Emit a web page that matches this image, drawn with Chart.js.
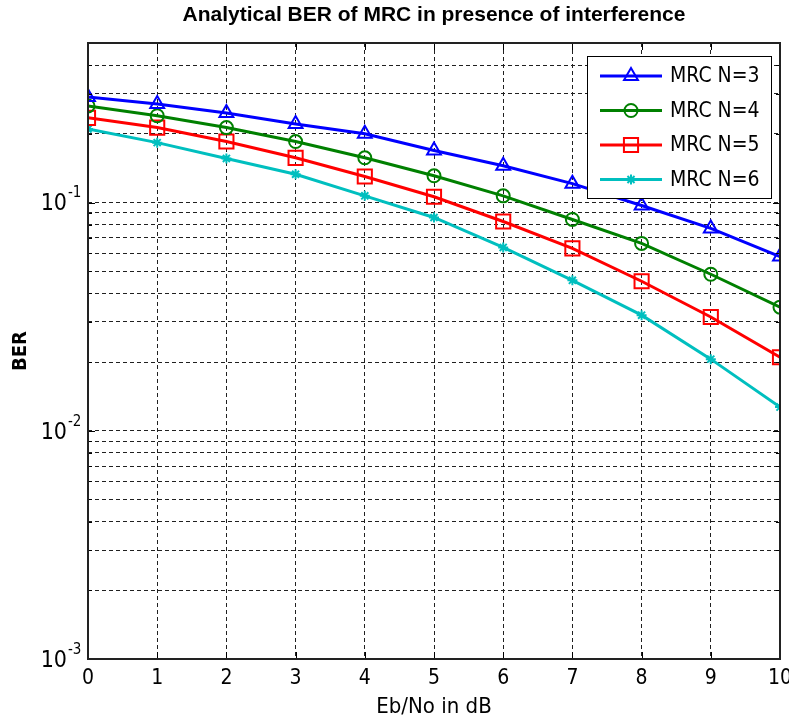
<!DOCTYPE html>
<html>
<head>
<meta charset="utf-8">
<title>Analytical BER of MRC</title>
<script src="https://cdn.jsdelivr.net/npm/chart.js"></script>
<style>
  html, body { margin: 0; padding: 0; background: #fff; }
  canvas { display: block; }
</style>
</head>
<body>
<canvas id="grafico" width="789" height="724"></canvas>
<script>
// dados
const ebno = [0, 1, 2, 3, 4, 5, 6, 7, 8, 9, 10];
const berN3 = [0.290, 0.270, 0.247, 0.221, 0.200, 0.169, 0.145, 0.121, 0.097, 0.077, 0.058];
const berN4 = [0.265, 0.240, 0.213, 0.185, 0.157, 0.131, 0.107, 0.0843, 0.0662, 0.0485, 0.0348];
const berN5 = [0.235, 0.213, 0.185, 0.157, 0.130, 0.106, 0.0826, 0.0630, 0.0452, 0.0315, 0.0210];
const berN6 = [0.210, 0.183, 0.156, 0.133, 0.107, 0.086, 0.0636, 0.0456, 0.0321, 0.0206, 0.0127];

const xTicks = [0, 1, 2, 3, 4, 5, 6, 7, 8, 9, 10];
const yTicks = [0.001, 0.002, 0.003, 0.004, 0.005, 0.006, 0.007, 0.008, 0.009,
                0.01, 0.02, 0.03, 0.04, 0.05, 0.06, 0.07, 0.08, 0.09,
                0.1, 0.2, 0.3, 0.4, 0.5];
const yDecades = [0.1, 0.01, 0.001];
const yDecadeExp = ["-1", "-2", "-3"];

const seriesNames = ["MRC N=3", "MRC N=4", "MRC N=5", "MRC N=6"];

const NARROW = "'Liberation Sans Narrow', 'DejaVu Sans Condensed', 'Liberation Sans', sans-serif";
Chart.defaults.font.family = NARROW;
Chart.defaults.color = "#000";

function pontos(vals) {
  return vals.map((v, i) => ({ x: ebno[i], y: v }));
}

function serie(label, vals, color, style, radius) {
  return {
    label: label,
    data: pontos(vals),
    borderColor: color,
    backgroundColor: color,
    borderWidth: 3,
    pointStyle: style,
    pointRadius: radius,
    pointBorderWidth: 2,
    pointBorderColor: color,
    pointBackgroundColor: "rgba(0,0,0,0)",
    tension: 0
  };
}

// moldura estilo MATLAB, rótulos 10^n e legenda
const moldura = {
  id: "moldura",
  afterDraw(chart) {
    const ctx = chart.ctx;
    const a = chart.chartArea;
    const xs = chart.scales.x, ys = chart.scales.y;
    ctx.save();

    // marcas internas
    ctx.strokeStyle = "#000";
    ctx.lineWidth = 1;
    ctx.setLineDash([]);
    ctx.beginPath();
    xTicks.forEach(t => {
      const px = Math.round(xs.getPixelForValue(t)) + 0.5;
      ctx.moveTo(px, a.bottom); ctx.lineTo(px, a.bottom - 7);
      ctx.moveTo(px, a.top); ctx.lineTo(px, a.top + 7);
    });
    yTicks.forEach(t => {
      const py = Math.round(ys.getPixelForValue(t)) + 0.5;
      const len = yDecades.includes(t) ? 7 : 4;
      ctx.moveTo(a.left, py); ctx.lineTo(a.left + len, py);
      ctx.moveTo(a.right, py); ctx.lineTo(a.right - len, py);
    });
    ctx.stroke();

    // caixa
    ctx.lineWidth = 2;
    ctx.strokeStyle = "#222";
    ctx.strokeRect(Math.round(a.left), Math.round(a.top), Math.round(a.right - a.left), Math.round(a.bottom - a.top));

    // rótulos do eixo y
    ctx.fillStyle = "#000";
    yDecades.forEach((v, i) => {
      const py = ys.getPixelForValue(v);
      ctx.font = "23px " + NARROW;
      ctx.textAlign = "right";
      ctx.textBaseline = "middle";
      ctx.fillText("10", a.left - 21, py + 2);
      ctx.font = "15px " + NARROW;
      ctx.textAlign = "left";
      ctx.fillText(yDecadeExp[i], a.left - 20, py - 9);
    });

    // legenda
    const lw = 184, lh = 142;
    const lx = a.right - 9 - lw, ly = a.top + 13;
    ctx.fillStyle = "#fff";
    ctx.fillRect(lx, ly, lw, lh);
    ctx.lineWidth = 1;
    ctx.strokeStyle = "#000";
    ctx.strokeRect(lx + 0.5, ly + 0.5, lw, lh);
    chart.data.datasets.forEach((ds, i) => {
      const cy = ly + 20 + i * 34.5;
      ctx.strokeStyle = ds.borderColor;
      ctx.lineWidth = 3;
      ctx.beginPath();
      ctx.moveTo(lx + 13, cy);
      ctx.lineTo(lx + 75, cy);
      ctx.stroke();
      ctx.lineWidth = 2;
      ctx.fillStyle = "rgba(0,0,0,0)";
      Chart.helpers.drawPoint(ctx, {
        pointStyle: ds.pointStyle,
        radius: ds.pointRadius,
        rotation: 0,
        borderWidth: 2
      }, lx + 44, cy);
      ctx.fillStyle = "#000";
      ctx.font = "21px " + NARROW;
      ctx.textAlign = "left";
      ctx.textBaseline = "middle";
      ctx.fillText(ds.label, lx + 83, cy + 1);
    });
    ctx.restore();
  }
};

new Chart(document.getElementById("grafico"), {
  type: "line",
  data: {
    datasets: [
      serie(seriesNames[0], berN3, "#0000ff", "triangle", 8),
      serie(seriesNames[1], berN4, "#008000", "circle", 6.5),
      serie(seriesNames[2], berN5, "#ff0000", "rect", 10),
      serie(seriesNames[3], berN6, "#00bfbf", "star", 5)
    ]
  },
  options: {
    responsive: false,
    animation: false,
    devicePixelRatio: 1,
    layout: { autoPadding: false, padding: { top: 0, right: 9, left: 0, bottom: 0 } },
    plugins: {
      legend: { display: false },
      tooltip: { enabled: false },
      title: {
        display: true,
        fullSize: false,
        text: "Analytical BER of MRC in presence of interference",
        font: { family: "'Liberation Sans', Arial, sans-serif", size: 21, weight: "bold" },
        color: "#000",
        padding: { top: 3, bottom: 14.8 }
      }
    },
    scales: {
      x: {
        type: "linear",
        min: 0,
        max: 10,
        afterBuildTicks: s => { s.ticks = xTicks.map(v => ({ value: v })); },
        afterFit: s => { s.height = 65; s.paddingLeft = 0; s.paddingRight = 0; },
        ticks: { font: { size: 21 }, padding: 7, maxRotation: 0, color: "#000" },
        grid: { color: "#202020", lineWidth: 1, drawTicks: false },
        border: { display: false, dash: [4, 3] },
        title: { display: true, text: "Eb/No in dB", font: { size: 22 }, color: "#000", padding: { top: 0, bottom: 4 } }
      },
      y: {
        type: "logarithmic",
        min: 0.001,
        max: 0.5,
        afterBuildTicks: s => { s.ticks = yTicks.map(v => ({ value: v })); },
        afterFit: s => { s.width = 88; s.paddingTop = 0; s.paddingBottom = 0; },
        ticks: { display: false },
        grid: { color: "#202020", lineWidth: 1, drawTicks: false },
        border: { display: false, dash: [4, 3] },
        title: { display: true, text: "BER", font: { size: 20, weight: "bold" }, color: "#000", padding: { top: 9, bottom: 0 } }
      }
    }
  },
  plugins: [moldura]
});
</script>
</body>
</html>
